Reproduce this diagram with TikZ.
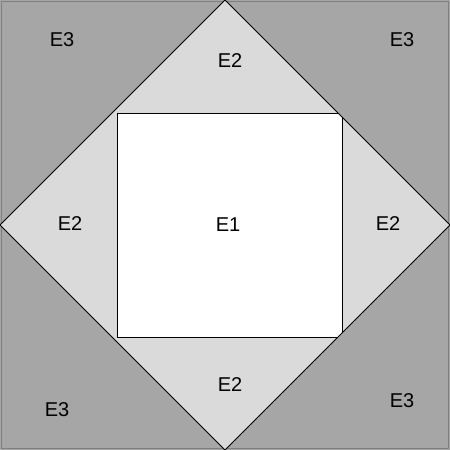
\documentclass[tikz,border=0pt]{standalone}
\usepackage{fontspec}
\setmainfont{Liberation Sans}
\definecolor{darkpatch}{HTML}{A6A6A6}
\definecolor{lightpatch}{HTML}{DADADA}
\definecolor{rimgray}{HTML}{7F7F7F}
\begin{document}
\begin{tikzpicture}[x=1pt,y=-1pt]

      \useasboundingbox (0,0) rectangle (450,450);

      \coordinate (tl) at (0,0);
      \coordinate (br) at (450,450);
      \coordinate (n)  at (225,0);
      \coordinate (e)  at (450,225);
      \coordinate (s)  at (225,450);
      \coordinate (w)  at (0,225);
      \coordinate (a)  at (117,113);
      \coordinate (b)  at (342,337);

      \fill[darkpatch] (tl) rectangle (br);
      \draw[rimgray,line width=1.2pt] (1.5,1.5) rectangle (448.5,448.5);
      \fill[lightpatch] (n) -- (e) -- (s) -- (w) -- cycle;

      \begin{scope}
        \clip (n) -- (e) -- (s) -- (w) -- cycle;
        \filldraw[fill=white,draw=black,line width=1pt] (a) rectangle (b);
      \end{scope}
      \draw[black,line width=1pt] (n) -- (e) -- (s) -- (w) -- cycle;

      \begin{scope}[every node/.style={font=\fontsize{20}{24}\selectfont}]
        \node (E1)  at (228,225) {E1};
        \node (E2n) at (230,61)  {E2};
        \node (E2w) at (70,224)  {E2};
        \node (E2e) at (388,224) {E2};
        \node (E2s) at (230,385) {E2};
        \node (E3a) at (62,40)   {E3};
        \node (E3b) at (402,40)  {E3};
        \node (E3c) at (57,410)  {E3};
        \node (E3d) at (402,401) {E3};
      \end{scope}

    \end{tikzpicture}
\end{document}
